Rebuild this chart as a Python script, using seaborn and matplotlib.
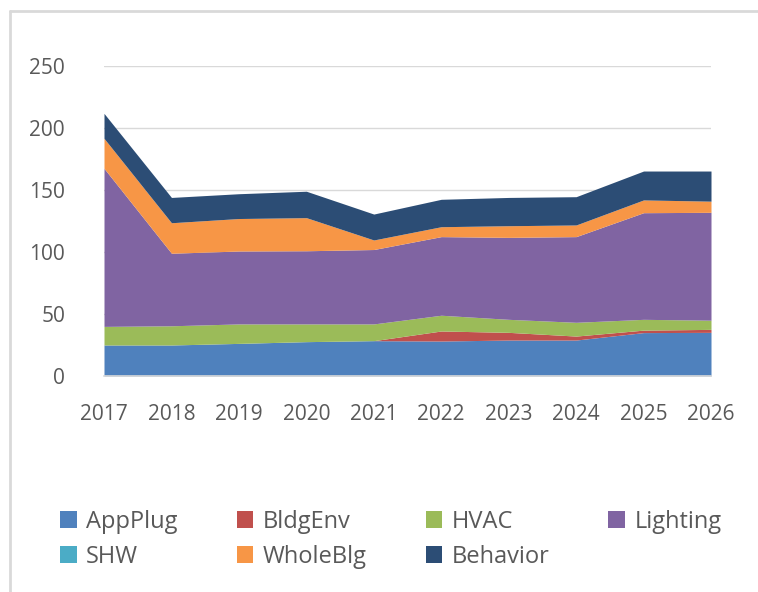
import matplotlib
matplotlib.use("Agg")
import matplotlib.pyplot as plt
import numpy as np
import pandas as pd
import seaborn as sns
from matplotlib.lines import Line2D
from matplotlib.patches import Patch

years = [2017, 2018, 2019, 2020, 2021, 2022, 2023, 2024, 2025, 2026]
app_plug = [25, 25, 26.3, 27.7, 28.5, 28.2, 29, 29, 35, 35.2]
bldg_env = [0, 0, 0, 0, 0, 8.1, 6.2, 3.2, 2, 2.4]
hvac = [15, 15.5, 15.7, 14.3, 13.5, 12.7, 10.5, 11.1, 8.7, 7.4]
lighting = [127.5, 58.5, 58.8, 59, 60, 63.4, 66.1, 69.1, 86, 87]
shw = [0, 0, 0, 0, 0, 0, 0, 0, 0, 0]
whole_blg = [24.2, 24.6, 26.2, 26.7, 7.7, 8, 9.4, 9.4, 10.3, 9]
behavior = [20.1, 20.4, 20, 21.3, 20.9, 22.1, 22.8, 22.8, 23.3, 24.3]

series_names = ["AppPlug", "BldgEnv", "HVAC", "Lighting", "SHW", "WholeBlg", "Behavior"]
colors = ["#4F81BD", "#C0504D", "#9BBB59", "#8064A2", "#4BACC6", "#F79646", "#2C4D75"]

df = pd.DataFrame(
    {
        "AppPlug": app_plug,
        "BldgEnv": bldg_env,
        "HVAC": hvac,
        "Lighting": lighting,
        "SHW": shw,
        "WholeBlg": whole_blg,
        "Behavior": behavior,
    },
    index=years,
)

sns.set_style("white")
plt.rcParams["font.family"] = ["Open Sans", "DejaVu Sans"]

fig = plt.figure(figsize=(7.58, 5.92), dpi=100)
ax = fig.add_axes([104 / 758, 216 / 592, 607 / 758, 310 / 592])

ax.stackplot(df.index, [df[c].values for c in series_names], colors=colors, linewidth=0)

ax.set_xlim(2017, 2026)
ax.set_ylim(0, 250)
ax.set_yticks(np.arange(0, 251, 50))
ax.set_xticks(years)
ax.yaxis.grid(True, color="#D9D9D9", linewidth=1)
ax.set_axisbelow(True)
for s in ["top", "right", "left"]:
    ax.spines[s].set_visible(False)
ax.spines["bottom"].set_color("#D9D9D9")
ax.spines["bottom"].set_linewidth(1.2)
ax.spines["bottom"].set_zorder(5)

ax.tick_params(axis="x", length=7, color="#D9D9D9", width=1.2, direction="out",
               labelsize=15, labelcolor="#595959", pad=13)
ax.tick_params(axis="y", length=0, labelsize=15, labelcolor="#595959", pad=28)

handles = [Patch(facecolor=c, edgecolor="none") for c in colors]
# reorder so rows read left-to-right
order = [0, 4, 1, 5, 2, 6, 3]
fig.legend(
    [handles[i] for i in order],
    [series_names[i] for i in order],
    ncol=4,
    loc="upper left",
    bbox_to_anchor=(60 / 758, 1 - 510 / 592),
    frameon=False,
    fontsize=17,
    labelcolor="#595959",
    handlelength=0.7,
    handleheight=0.7,
    handletextpad=0.4,
    columnspacing=2.5,
    labelspacing=0.45,
    borderaxespad=0,
    borderpad=0,
)

fig.add_artist(Line2D([10 / 758, 10 / 758], [0, 1 - 11 / 592], transform=fig.transFigure,
                      color="#D9D9D9", linewidth=2))
fig.add_artist(Line2D([10 / 758, 1], [1 - 11 / 592, 1 - 11 / 592], transform=fig.transFigure,
                      color="#D9D9D9", linewidth=2))

fig.savefig("out.png", dpi=100)
